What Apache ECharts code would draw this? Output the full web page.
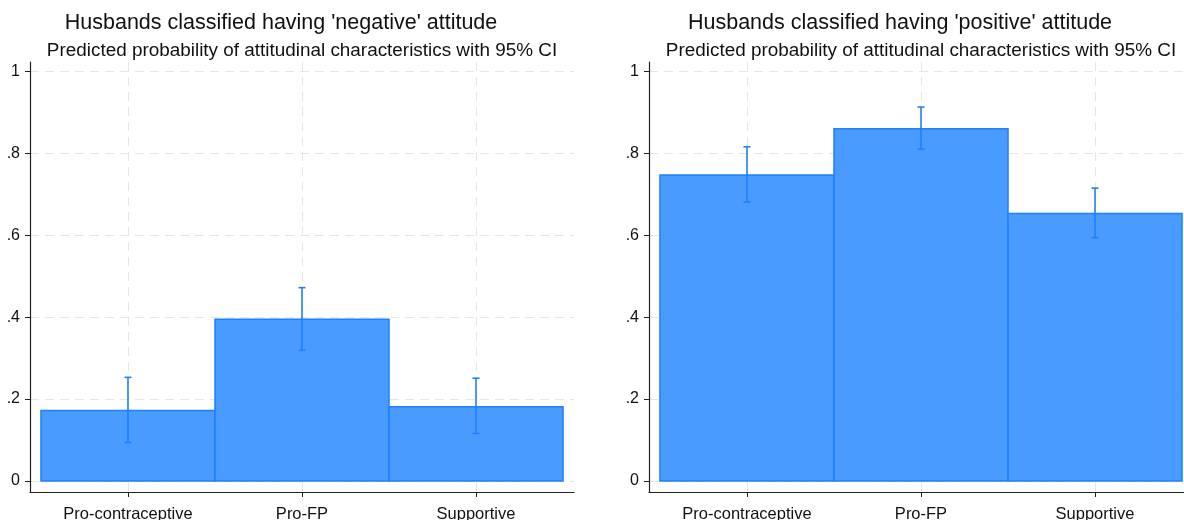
<!DOCTYPE html>
<html>
<head>
<meta charset="utf-8">
<script src="https://cdn.jsdelivr.net/npm/echarts@6/dist/echarts.min.js"></script>
<style>
  html, body { margin: 0; padding: 0; background: #fff; }
  #chart { width: 1184px; height: 520px; }
</style>
</head>
<body>
<div id="chart"></div>
<script>
// Categories and predicted probabilities with 95% confidence limits
const categories = ['Pro-contraceptive', 'Pro-FP', 'Supportive'];

const negativeProb  = [0.172, 0.395, 0.181];
const negativeLower = [0.094, 0.319, 0.116];
const negativeUpper = [0.253, 0.472, 0.251];

const positiveProb  = [0.747, 0.860, 0.653];
const positiveLower = [0.681, 0.810, 0.594];
const positiveUpper = [0.816, 0.913, 0.715];

const yTickValues = [0, 0.2, 0.4, 0.6, 0.8, 1];
const yTickLabels = ['0', '.2', '.4', '.6', '.8', '1'];

const panelTitles = [
  "Husbands classified having 'negative' attitude",
  "Husbands classified having 'positive' attitude"
];
const panelSubtitle = 'Predicted probability of attitudinal characteristics with 95% CI';

const FONT = '"Liberation Sans", Arial, sans-serif';
const BAR_FILL = '#4A9BFF';
const BAR_EDGE = '#1F80FF';
const CI_COLOR = '#1F80FF';
const GRID_COLOR = '#E6E6E6';

const catPositions = categories.map((_, i) => i + 1);

function yLabel(v) {
  const i = yTickValues.findIndex(t => Math.abs(t - v) < 1e-6);
  return i >= 0 ? yTickLabels[i] : '';
}
function xLabel(v) {
  const i = catPositions.findIndex(p => Math.abs(p - v) < 1e-6);
  return i >= 0 ? categories[i] : '';
}

// Bars fill the whole category slot, from x-0.5 to x+0.5
function renderBar(params, api) {
  const x = api.value(0);
  const v = api.value(1);
  const p0 = api.coord([x - 0.5, v]);
  const p1 = api.coord([x + 0.5, 0]);
  return {
    type: 'rect',
    shape: { x: p0[0], y: p0[1], width: p1[0] - p0[0], height: p1[1] - p0[1] },
    style: { fill: BAR_FILL, stroke: BAR_EDGE, lineWidth: 1.5 }
  };
}

// Capped vertical interval from lower to upper limit
function renderCI(params, api) {
  const x = api.value(0);
  const lo = api.coord([x, api.value(1)]);
  const hi = api.coord([x, api.value(2)]);
  const cap = 3.5;
  const style = { stroke: CI_COLOR, lineWidth: 1.6 };
  return {
    type: 'group',
    children: [
      { type: 'line', shape: { x1: lo[0], y1: lo[1], x2: hi[0], y2: hi[1] }, style },
      { type: 'line', shape: { x1: hi[0] - cap, y1: hi[1], x2: hi[0] + cap, y2: hi[1] }, style },
      { type: 'line', shape: { x1: lo[0] - cap, y1: lo[1], x2: lo[0] + cap, y2: lo[1] }, style }
    ]
  };
}

function makeXAxis(gridIndex) {
  return {
    type: 'value', gridIndex,
    min: 0.437, max: 3.563,
    axisLine: { show: true, onZero: false, lineStyle: { color: '#222', width: 1.2 } },
    axisTick: { show: true, customValues: catPositions, length: 5, lineStyle: { color: '#222' } },
    axisLabel: {
      customValues: catPositions, formatter: xLabel, margin: 14,
      color: '#111', fontSize: 16.5, fontFamily: FONT
    },
    splitLine: { show: true, lineStyle: { color: GRID_COLOR, type: [9, 6], width: 1 } }
  };
}

function makeYAxis(gridIndex) {
  return {
    type: 'value', gridIndex,
    min: -0.0269, max: 1.023,
    axisLine: { show: true, onZero: false, lineStyle: { color: '#222', width: 1.2 } },
    axisTick: { show: true, customValues: yTickValues, length: 5, lineStyle: { color: '#222' } },
    axisLabel: {
      customValues: yTickValues, formatter: yLabel, margin: 10,
      color: '#111', fontSize: 16, fontFamily: FONT
    },
    splitLine: { show: true, lineStyle: { color: GRID_COLOR, type: [9, 6], width: 1 } }
  };
}

function titleBlock(text, center, top, size) {
  return {
    text, left: center, top, padding: 0, textAlign: 'center',
    textStyle: { fontSize: size, fontWeight: 'normal', color: '#111', fontFamily: FONT }
  };
}

const panels = [
  { prob: negativeProb, lower: negativeLower, upper: negativeUpper },
  { prob: positiveProb, lower: positiveLower, upper: positiveUpper }
];

const series = [];
panels.forEach((p, g) => {
  series.push({
    type: 'custom', xAxisIndex: g, yAxisIndex: g,
    renderItem: renderBar, z: 2,
    data: p.prob.map((v, i) => [catPositions[i], v])
  });
  series.push({
    type: 'custom', xAxisIndex: g, yAxisIndex: g,
    renderItem: renderCI, z: 3,
    data: p.prob.map((_, i) => [catPositions[i], p.lower[i], p.upper[i]])
  });
});

const option = {
  backgroundColor: '#fff',
  animation: false,
  title: [
    titleBlock(panelTitles[0], 281, 12, 21.5),
    titleBlock(panelSubtitle, 302, 41, 18.9),
    titleBlock(panelTitles[1], 900, 12, 21.5),
    titleBlock(panelSubtitle, 921, 41, 18.9)
  ],
  grid: [
    { left: 30, top: 62, width: 544, height: 430, outerBoundsMode: 'none' },
    { left: 649, top: 62, width: 544, height: 430, outerBoundsMode: 'none' }
  ],
  xAxis: [makeXAxis(0), makeXAxis(1)],
  yAxis: [makeYAxis(0), makeYAxis(1)],
  series
};

const chart = echarts.init(document.getElementById('chart'), null, { renderer: 'canvas' });
chart.setOption(option);
</script>
</body>
</html>
